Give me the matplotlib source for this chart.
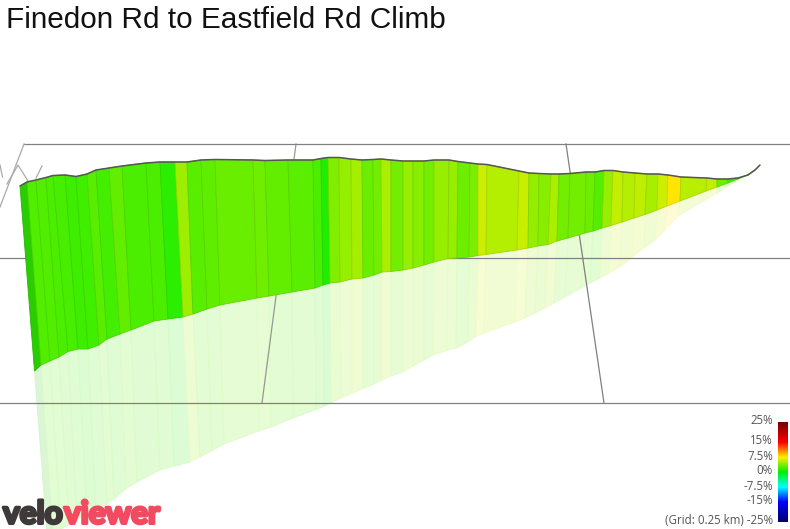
import numpy as np
import matplotlib
matplotlib.use('Agg')
import matplotlib.pyplot as plt
import matplotlib.patheffects as pe
from matplotlib.collections import PolyCollection
from matplotlib.colors import LinearSegmentedColormap, Normalize

# ribbon outline: top edge, base of the wall and ground shadow edge (projected px)
top_x = [20, 27, 36, 46, 53, 65, 76, 87, 96, 109, 122, 146, 160, 175, 187, 201, 215, 253, 265, 288,
         313, 321, 328, 339, 351, 362, 373, 381, 391, 403, 413, 424, 434, 449, 458, 470, 478, 487, 519, 529,
         539, 551, 559, 570, 586, 595, 604, 613, 623, 635, 647, 658, 668, 681, 707, 717, 728, 738, 748, 755, 760]
top_y = [186, 182, 180, 177.5, 175.5, 175, 176.5, 174, 170, 168, 166, 163, 162, 162, 162, 160, 159.5, 160, 160.5, 160,
         160, 158.5, 157.5, 157.5, 159, 160, 159.5, 159, 160, 161, 161, 161, 160, 160, 161.5, 163, 164, 164.5, 171, 173,
         173.5, 174, 174, 173.5, 172, 172, 170.5, 170.5, 172, 173, 174, 174, 175, 177, 178, 179, 179, 178, 175, 170, 165]
base_x = [34.5, 41, 50, 59, 68, 78, 88, 99, 107, 120, 131, 154, 168, 183, 193, 207, 220, 257, 269, 292,
          315, 323, 330, 340, 352, 363, 374, 382, 391, 403, 413, 424, 434, 448, 457, 469, 478, 486, 517, 528,
          538, 548, 557, 568, 585, 593, 602, 611, 622, 634, 645, 657, 667, 680, 706, 717, 728, 738, 748, 755, 760]
base_y = [371, 365, 361, 357, 351.5, 349, 349, 345, 339, 334, 330, 321, 319, 317, 314, 309, 305, 298, 296, 292,
          288, 285, 283, 282, 279, 278, 275, 272, 271.5, 270, 268, 265, 262, 258.5, 258, 257, 255.5, 254.5, 250, 248,
          246, 244.5, 241, 238, 233, 231, 228, 225.5, 222, 218, 214.5, 210, 206, 201, 191, 187, 183, 179, 174.5, 170, 165]
shadow_x = [47.5, 53, 61, 69, 77, 87, 96, 107, 114, 126, 137, 160, 174, 190, 200, 212, 224, 259, 271, 293,
            316, 324, 331, 341, 352, 363, 374, 382, 391, 403, 413, 424, 433, 447, 456, 468, 476, 484, 515, 525,
            535, 545, 554, 565, 581, 590, 600, 609, 620, 632, 644, 655, 665, 678, 705, 717, 728, 738, 748, 755, 760]
shadow_y = [540, 533, 529, 524, 519.5, 514, 509, 504, 499, 488.5, 482, 470, 466, 462, 457, 450.5, 444, 431, 427, 418,
            409.5, 406.5, 403, 398, 393.5, 388.5, 384, 380, 376, 372, 366, 360, 355, 350.5, 348, 342, 336, 333, 322, 318,
            313, 308, 303, 297, 288, 283, 278, 273, 267, 257, 248, 240, 230, 216, 200, 193, 186, 180, 175, 170, 165]

# gradient (%) of each strip between two outline points
grades = [1.4, 2.4, 2.4, 2.2, 2.1, 1.8, 1.9, 2.6, 2.0, 2.9, 2.2, 2.2, 1.3, 4.6, 2.6, 2.8, 3.1, 3.3, 2.9, 2.7,
          2.2, 0.9, 3.8, 4.4, 4.8, 3.1, 3.4, 5.0, 3.4, 4.4, 4.0, 3.4, 4.4, 4.4, 3.2, 3.7, 6.0, 5.3, 5.9, 4.3,
          4.0, 5.0, 3.4, 3.4, 3.2, 2.5, 4.4, 5.7, 5.3, 5.6, 4.9, 6.0, 7.8, 5.4, 5.7, 3.1, 2.1, 2.1, 2.1, 2.1]

legend_ticks = [25, 15, 7.5, 0, -7.5, -15, -25]
legend_labels = ['25%', '15%', '7.5%', '0%', '-7.5%', '-15%', '(Grid: 0.25 km) -25%']

# colour scale runs -25..25
stops = [(-25, '#00006e'), (-15, '#0000ff'), (-7.5, '#00ffff'), (0, '#00ee00'),
         (7.5, '#ffee00'), (15, '#ff0000'), (25, '#7a0000')]
norm = Normalize(-25, 25)
cmap = LinearSegmentedColormap.from_list('grade', [(norm(v), c) for v, c in stops], N=1024)

fig = plt.figure(figsize=(7.9, 5.29), dpi=100)
ax = fig.add_axes([0, 0, 1, 1])
ax.axis('off')

colors = cmap(norm(np.array(grades)))
colors[0, :3] *= 0.86  # first strip is the end cap, a bit darker

walls = []
shadows = []
for i in range(len(grades)):
    walls.append([(top_x[i], top_y[i]), (top_x[i+1], top_y[i+1]), (base_x[i+1], base_y[i+1]), (base_x[i], base_y[i])])
    shadows.append([(base_x[i], base_y[i]), (base_x[i+1], base_y[i+1]), (shadow_x[i+1], shadow_y[i+1]), (shadow_x[i], shadow_y[i])])

# pale shadow on the ground, solid colours so the strips don't show seams
shadow_cols = colors.copy()
shadow_cols[:, :3] = 1 - 0.17 * (1 - colors[:, :3])
shadow_edges = colors.copy()
shadow_edges[:, :3] = 1 - 0.21 * (1 - colors[:, :3])
ax.add_collection(PolyCollection(shadows, facecolors=shadow_cols, edgecolors=shadow_edges, linewidths=0.6, zorder=1))

# grid of the ground plane and the far edge
grid = '#808080'
ax.plot([0, 790], [258, 258], color=grid, lw=0.9, zorder=2)
ax.plot([0, 790], [403, 403], color=grid, lw=0.9, zorder=2)
ax.plot([24, 790], [144, 144], color=grid, lw=0.9, zorder=2)
ax.plot([296, 262], [144, 403], color=grid, lw=0.9, alpha=0.8, zorder=2)
ax.plot([566, 604], [144, 403], color=grid, lw=0.9, zorder=2)
ax.plot([24, 0], [144, 207], color='#a8a8a8', lw=0.9, zorder=2)

# faint lines behind the start of the climb
ax.plot([0, 2.5], [165, 177], color='#aaaaaa', lw=0.9, zorder=2)
ax.plot([7, 18, 28], [184, 165, 181], color='#aaaaaa', lw=0.9, zorder=2)
ax.plot([36, 42], [178, 166], color='#aaaaaa', lw=0.9, zorder=2)

# the wall itself
wall_edges = colors.copy()
wall_edges[:, :3] = colors[:, :3] * 0.9
ax.add_collection(PolyCollection(walls, facecolors=colors, edgecolors=wall_edges, linewidths=0.6, zorder=3))
ax.plot(top_x, top_y, color='#555555', lw=1.1, zorder=4, solid_capstyle='round')

# colour legend
bar = np.linspace(25, -25, 100).reshape(-1, 1)
ax.imshow(bar, cmap=cmap, norm=norm, extent=[778, 788, 522, 422], aspect='auto', zorder=5)
for t, lab in zip(legend_ticks, legend_labels):
    ax.text(773, 471 - 2 * t, lab, ha='right', va='center', fontsize=8.3, family='Open Sans', color='#555555', zorder=6)

ax.text(6, 28, 'Finedon Rd to Eastfield Rd Climb', fontsize=21.4, family='Liberation Sans', color='#111111', zorder=6)

# logo lettering
logo_dark = '#3e3a3a'
logo_red = '#f24a60'
ax.text(3, 523.5, 'velo', fontsize=22.8, family='Lato', weight='bold', color=logo_dark, zorder=7,
        path_effects=[pe.withStroke(linewidth=2.2, foreground=logo_dark)])
ax.text(64, 523.5, 'viewer', fontsize=22.8, family='Lato', weight='bold', color=logo_red, zorder=8,
        path_effects=[pe.withStroke(linewidth=2.2, foreground=logo_red)])

ax.set_xlim(0, 790)
ax.set_ylim(529, 0)
fig.savefig('out.png', dpi=100)
